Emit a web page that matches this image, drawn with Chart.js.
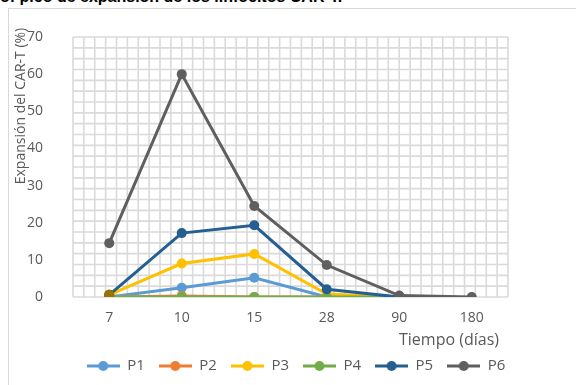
<!DOCTYPE html>
<html lang="es">
<head>
<meta charset="utf-8">
<script src="https://cdn.jsdelivr.net/npm/chart.js@4/dist/chart.umd.min.js"></script>
<style>
  html, body { margin: 0; padding: 0; background: #fff; overflow: hidden; }
  body { width: 576px; height: 385px; position: relative; }
  #caption {
    position: absolute; left: 0; top: -12px; white-space: nowrap;
    font: bold 16px "Liberation Sans", Arial, sans-serif; color: #000;
  }
  #frame {
    position: absolute; left: 8px; top: 8px; width: 640px; height: 420px;
    border: 1px solid #d9d9d9; box-sizing: border-box;
  }
  #wrap { position: absolute; left: 0; top: 0; width: 576px; height: 385px; }
</style>
</head>
<body>
<div id="caption">o: pico de expansión de los linfocitos CAR-T.</div>
<div id="frame"></div>
<div id="wrap"><canvas id="chart" width="576" height="385"></canvas></div>
<script>
// Días de seguimiento tras la infusión
const dias = ['7', '10', '15', '28', '90', '180'];

// Expansión del CAR-T (%) por paciente
const p1 = [0, 2.5, 5.2, 0, 0, null];
const p2 = [0, 0.3, 0, 0, 0, null];
const p3 = [0.6, 9, 11.6, 0.8, 0, null];
const p4 = [0, 0, 0, 0, 0, null];
const p5 = [0.6, 17.2, 19.3, 2.1, 0, null];
const p6 = [14.5, 60, 24.5, 8.6, 0.4, 0];
const p7 = [0.6, null, null, null, null, null];

const nombres = ['P1', 'P2', 'P3', 'P4', 'P5', 'P6', 'P7'];
const colores = ['#5b9bd5', '#ed7d31', '#ffc000', '#70ad47', '#255e91', '#5f5f5f', '#997300'];
const series = [p1, p2, p3, p4, p5, p6, p7];

const yTicks = { min: 0, max: 70, step: 10 };
const yTitle = 'Expansión del CAR-T (%)';
const xTitle = 'Tiempo (días)';

const FONT = '"Open Sans", "DejaVu Sans", sans-serif';
const GRAY = '#595959';

// Legend swatch: short line with a round marker in the middle
function swatch(color) {
  const c = document.createElement('canvas');
  c.width = 33; c.height = 12;
  const g = c.getContext('2d');
  g.strokeStyle = color; g.lineWidth = 3;
  g.beginPath(); g.moveTo(0, 6); g.lineTo(33, 6); g.stroke();
  g.fillStyle = color;
  g.beginPath(); g.arc(16.5, 6, 5, 0, Math.PI * 2); g.fill();
  return c;
}

// Fine grid pattern over the plot area plus the two axis titles
const decor = {
  id: 'decor',
  beforeDatasetsDraw(chart) {
    const { ctx, chartArea: a } = chart;
    ctx.save();
    ctx.strokeStyle = '#dadada';
    ctx.lineWidth = 1.6;
    const nx = 40, ny = 24;
    ctx.beginPath();
    for (let i = 0; i <= nx; i++) {
      const x = a.left + (a.right - a.left) * i / nx;
      ctx.moveTo(x, a.top); ctx.lineTo(x, a.bottom);
    }
    for (let j = 0; j <= ny; j++) {
      const y = a.top + (a.bottom - a.top) * j / ny;
      ctx.moveTo(a.left, y); ctx.lineTo(a.right, y);
    }
    ctx.stroke();
    ctx.restore();
  },
  afterDraw(chart) {
    const { ctx } = chart;
    ctx.save();
    ctx.fillStyle = GRAY;
    ctx.textAlign = 'center';
    ctx.textBaseline = 'middle';
    ctx.font = '14px ' + FONT;
    ctx.save();
    ctx.translate(21, 106);
    ctx.rotate(-Math.PI / 2);
    ctx.fillText(yTitle, 0, 0);
    ctx.restore();
    ctx.font = '16px ' + FONT;
    ctx.fillText(xTitle, 449, 340);
    ctx.restore();
  }
};

const datasets = series.map((vals, i) => ({
  label: nombres[i],
  data: vals,
  borderColor: colores[i],
  backgroundColor: colores[i],
  borderWidth: 3,
  pointRadius: 5,
  pointHoverRadius: 5,
  pointBorderWidth: 0,
  spanGaps: false,
  order: series.length - i
}));

new Chart(document.getElementById('chart'), {
  type: 'line',
  data: { labels: dias, datasets },
  plugins: [decor],
  options: {
    responsive: false,
    animation: false,
    events: [],
    layout: { padding: { left: 16, top: 37, right: 0, bottom: 1.5 } },
    scales: {
      x: {
        type: 'category',
        offset: true,
        grid: { display: false },
        border: { display: false },
        ticks: { color: GRAY, font: { family: FONT, size: 14 }, padding: 5, maxRotation: 0 },
        afterFit(s) { s.height = 47.5; }
      },
      y: {
        min: yTicks.min, max: yTicks.max,
        grid: { display: false },
        border: { display: false },
        ticks: { stepSize: yTicks.step, color: GRAY, font: { family: FONT, size: 14 }, padding: 22 },
        afterFit(s) { s.width = 57; }
      },
      yR: {
        position: 'right',
        display: true,
        grid: { display: false },
        border: { display: false },
        ticks: { display: false },
        afterFit(s) { s.width = 68; }
      }
    },
    plugins: {
      tooltip: { enabled: false },
      legend: {
        position: 'bottom',
        labels: {
          usePointStyle: true,
          pointStyleWidth: 33,
          padding: 14,
          color: GRAY,
          font: { family: FONT, size: 15 },
          generateLabels(chart) {
            const items = Chart.defaults.plugins.legend.labels.generateLabels(chart);
            return items.map(it => Object.assign(it, {
              pointStyle: swatch(chart.data.datasets[it.datasetIndex].borderColor)
            }));
          },
          filter: (it) => it.datasetIndex < 6,
          sort: (a, b) => a.datasetIndex - b.datasetIndex
        }
      }
    }
  }
});
</script>
</body>
</html>
